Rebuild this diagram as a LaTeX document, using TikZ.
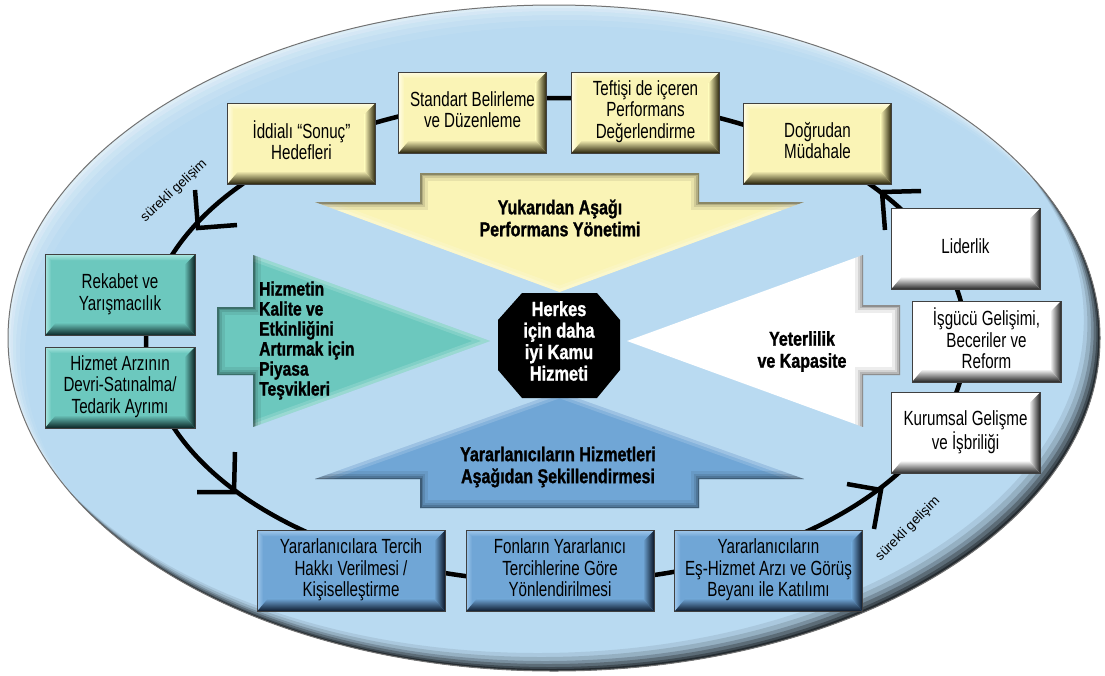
\documentclass[tikz,border=0pt]{standalone}
\usepackage{fontspec}
\setmainfont{Liberation Sans}[FakeStretch=0.74]
\newfontfamily\heavyfont{Liberation Sans}[FakeStretch=0.8, BoldFeatures={FakeBold=1.2}]
\newfontfamily\plainfont{Liberation Sans}
\usetikzlibrary{calc}

\definecolor{sky}{RGB}{185,218,241}
\definecolor{yel}{RGB}{250,244,182}
\definecolor{yeldk}{RGB}{40,35,10}
\definecolor{yello}{RGB}{255,252,228}
\definecolor{tea}{RGB}{108,200,190}
\definecolor{teadk}{RGB}{10,36,36}
\definecolor{tealt}{RGB}{172,230,224}
\definecolor{blu}{RGB}{112,166,214}
\definecolor{bludk}{RGB}{10,22,40}
\definecolor{blult}{RGB}{158,198,234}
\definecolor{wdk}{RGB}{35,35,35}

\newcommand\boxfont{\fontsize{20.5}{21.5}\selectfont}
\newcommand\headfont{\heavyfont\bfseries\fontsize{20}{22}\selectfont}
\newcommand\lines[1]{\raisebox{4pt}{\begin{tabular}{@{}c@{}}#1\end{tabular}}}

% bevelled edges of a card: light top/left, dark bottom/right
\newcommand\bevel[3]{%
  \path (path picture bounding box.south west) coordinate (p-sw)
        (path picture bounding box.south east) coordinate (p-se)
        (path picture bounding box.north east) coordinate (p-ne)
        (path picture bounding box.north west) coordinate (p-nw);
  \shade[top color=#3, bottom color=#1] (p-nw) -- (p-ne) -- ([shift={(-6pt,-6pt)}]p-ne) -- ([shift={(6pt,-6pt)}]p-nw) -- cycle;
  \shade[left color=#3, right color=#1] (p-nw) -- (p-sw) -- ([shift={(6pt,6pt)}]p-sw) -- ([shift={(6pt,-6pt)}]p-nw) -- cycle;
  \shade[top color=#1, bottom color=#2] (p-sw) -- (p-se) -- ([shift={(-11pt,13pt)}]p-se) -- ([shift={(11pt,13pt)}]p-sw) -- cycle;
  \shade[left color=#1, right color=#2] (p-ne) -- (p-se) -- ([shift={(-11pt,13pt)}]p-se) -- ([shift={(-11pt,-11pt)}]p-ne) -- cycle;
}

% soft dark shadow inside a shape along the given edges
\newcommand\inshadow[2]{%
  \begin{scope}
    \clip #1;
    \foreach \w/\o in {16/0.07,10/0.1,6/0.14,3/0.22}{\draw[black, line width=\w pt, opacity=\o, line join=miter] #2;}
  \end{scope}}
% soft light glow inside a shape along the given edges
\newcommand\inglow[2]{%
  \begin{scope}
    \clip #1;
    \foreach \w/\o in {12/0.15,6/0.2}{\draw[white, line width=\w pt, opacity=\o] #2;}
  \end{scope}}

\tikzset{
  card/.style n args={3}{draw=black!75, line width=0.8pt, fill=#1, inner sep=0pt,
    minimum height=81pt, font=\boxfont, path picture={\bevel{#1}{#2}{#3}}},
  ycard/.style={card={yel}{yeldk}{yello}, minimum width=148pt},
  wcard/.style={card={white}{wdk}{white}, minimum width=149pt},
  tcard/.style={card={tea}{teadk}{tealt}, minimum width=150pt},
  bcard/.style={card={blu}{bludk}{blult}, minimum width=188pt},
  cycleline/.style={line width=4.5pt, black},
  tick/.style={line width=4.5pt, black, line cap=butt, line join=miter},
  arrowlabel/.style={font=\headfont, align=center, inner sep=0pt},
  looplabel/.style={font=\plainfont\fontsize{13.5}{15}\selectfont, inner sep=0pt},
}

\begin{document}
\begin{tikzpicture}[x=1pt, y=-1pt]
\useasboundingbox (0,0) rectangle (1105,675);
\fill[white] (0,0) rectangle (1105,675);

% ---- background ellipse ----
\fill[sky] (554,338) ellipse [x radius=546pt, y radius=333pt];
\begin{scope}
  \clip (554,338) ellipse [x radius=546pt, y radius=333pt];
  \foreach \s/\o in {3/0.22,6/0.18,10/0.14,15/0.1,21/0.07}
    \fill[white, opacity=\o, even odd rule] (0,0) rectangle (1105,675)
      ([shift={(0.8*\s,\s)}]554,338) ellipse [x radius=546pt, y radius=333pt];
  \foreach \s/\o in {2/0.4,4/0.3,7/0.24,10/0.18,14/0.12,18/0.08}
    \fill[black, opacity=\o, even odd rule] (0,0) rectangle (1105,675)
      ([shift={(-0.9*\s,-\s)}]554,338) ellipse [x radius=546pt, y radius=333pt];
\end{scope}
\draw[black!55, line width=1pt] (554,338) ellipse [x radius=546pt, y radius=333pt];

% ---- four block arrows ----
% top-down (yellow)
\fill[yel] (420,173) -- (699,173) -- (699,202) -- (804,202) -- (559.5,292) -- (315,202) -- (420,202) -- cycle;
\inglow{(420,173) -- (699,173) -- (699,202) -- (804,202) -- (559.5,292) -- (315,202) -- (420,202) -- cycle}
  {(315,202) -- (559.5,292) -- (804,202)}
\inshadow{(420,173) -- (699,173) -- (699,202) -- (804,202) -- (559.5,292) -- (315,202) -- (420,202) -- cycle}
  {(315,202) -- (420,202) -- (420,173) -- (699,173) -- (699,202) -- (804,202)}
\node[arrowlabel] (topdown) at (560,218) {Yukarıdan Aşağı\\Performans Yönetimi};

% bottom-up (blue)
\fill[blu] (559.5,392) -- (804,479) -- (699,479) -- (699,508) -- (420,508) -- (420,479) -- (315,479) -- cycle;
\inglow{(559.5,392) -- (804,479) -- (699,479) -- (699,508) -- (420,508) -- (420,479) -- (315,479) -- cycle}
  {(315,479) -- (559.5,392) -- (804,479)}
\inshadow{(559.5,392) -- (804,479) -- (699,479) -- (699,508) -- (420,508) -- (420,479) -- (315,479) -- cycle}
  {(315,479) -- (420,479) -- (420,508) -- (699,508) -- (699,479) -- (804,479)}
\node[arrowlabel] (bottomup) at (558,467) {Yararlanıcıların Hizmetleri\\Aşağıdan Şekillendirmesi};

% market incentives (teal)
\fill[tea] (490,341) -- (253,427) -- (253,375) -- (217,375) -- (217,307) -- (253,307) -- (253,255) -- cycle;
\inglow{(490,341) -- (253,427) -- (253,375) -- (217,375) -- (217,307) -- (253,307) -- (253,255) -- cycle}
  {(253,255) -- (490,341) -- (253,427)}
\inshadow{(490,341) -- (253,427) -- (253,375) -- (217,375) -- (217,307) -- (253,307) -- (253,255) -- cycle}
  {(253,255) -- (253,307) -- (217,307) -- (217,375) -- (253,375) -- (253,427)}
\node[arrowlabel, font=\heavyfont\bfseries\fontsize{19.5}{20}\selectfont, align=left, anchor=west] (market) at (259,340.5)
  {Hizmetin\\Kalite ve\\Etkinliğini\\Artırmak için\\Piyasa\\Teşvikleri};

% capability (white)
\fill[white] (627,341) -- (863,427) -- (863,375) -- (900,375) -- (900,305) -- (863,305) -- (863,255) -- cycle;
\inshadow{(627,341) -- (863,427) -- (863,375) -- (900,375) -- (900,305) -- (863,305) -- (863,255) -- cycle}
  {(863,255) -- (863,305) -- (900,305) -- (900,375) -- (863,375) -- (863,427)}
\node[arrowlabel] (capacity) at (802,351.5) {Yeterlilik\\ve Kapasite};

% ---- improvement loop ----
\draw[cycleline] (556,340) ellipse [x radius=410pt, y radius=242pt];

% ---- cards on the loop ----
\node[ycard] (goals)    at (301.5,143.5) {\lines{İddialı “Sonuç”\\Hedefleri}};
\node[ycard] (standard) at (472.5,112.5) {\lines{Standart Belirleme\\ve Düzenleme}};
\node[ycard] (inspect)  at (645.5,112.5) {\lines{Teftişi de içeren\\Performans\\Değerlendirme}};
\node[ycard] (direct)   at (817.5,143.5) {\lines{Doğrudan\\Müdahale}};

\node[wcard] (leader)   at (965.5,249)   {\lines{Liderlik}};
\node[wcard] (workforce) at (986.5,341.5) {\lines{İşgücü Gelişimi,\\Beceriler ve\\Reform}};
\node[wcard] (institute) at (965.5,433)  {\lines{Kurumsal Gelişme\\ve İşbriliği}};

\node[tcard] (compete)  at (120,295)     {\lines{Rekabet ve\\Yarışmacılık}};
\node[tcard] (split)    at (120,387.5)   {\lines{Hizmet Arzının\\Devri-Satınalma/\\Tedarik Ayrımı}};

\node[bcard] (choice)   at (351,571)     {\lines{Yararlanıcılara Tercih\\Hakkı Verilmesi /\\Kişiselleştirme}};
\node[bcard] (funds)    at (560,571)     {\lines{Fonların Yararlanıcı\\Tercihlerine Göre\\Yönlendirilmesi}};
\node[bcard] (coprod)   at (768.5,571)   {\lines{Yararlanıcıların\\Eş-Hizmet Arzı ve Görüş\\Beyanı ile Katılımı}};

% ---- direction ticks on the loop ----
\coordinate (tick-nw) at (198,228);
\coordinate (tick-sw) at (234,492);
\coordinate (tick-se) at (881,490);
\coordinate (tick-ne) at (882,192);
\draw[tick] (195,190) -- (tick-nw) -- (237,225);
\draw[tick] (235,452) -- (tick-sw) -- (197,492);
\draw[tick] (847,484) -- (tick-se) -- (874,529);
\draw[tick] (921,191) -- (tick-ne) -- (885,230);

\node[looplabel, rotate=43] (loop-nw) at (174,191) {sürekli gelişim};
\node[looplabel, rotate=45] (loop-se) at (908,529) {sürekli gelişim};

% ---- central goal ----
\fill[black] (522,293) -- (597,293) -- (620,320) -- (620,370) -- (597,398) -- (522,398) -- (498,370) -- (498,320) -- cycle;
\node[arrowlabel, font=\heavyfont\bfseries\fontsize{20.5}{21.5}\selectfont, text=white] (core) at (559,341)
  {Herkes\\için daha\\iyi Kamu\\Hizmeti};
\end{tikzpicture}
\end{document}
